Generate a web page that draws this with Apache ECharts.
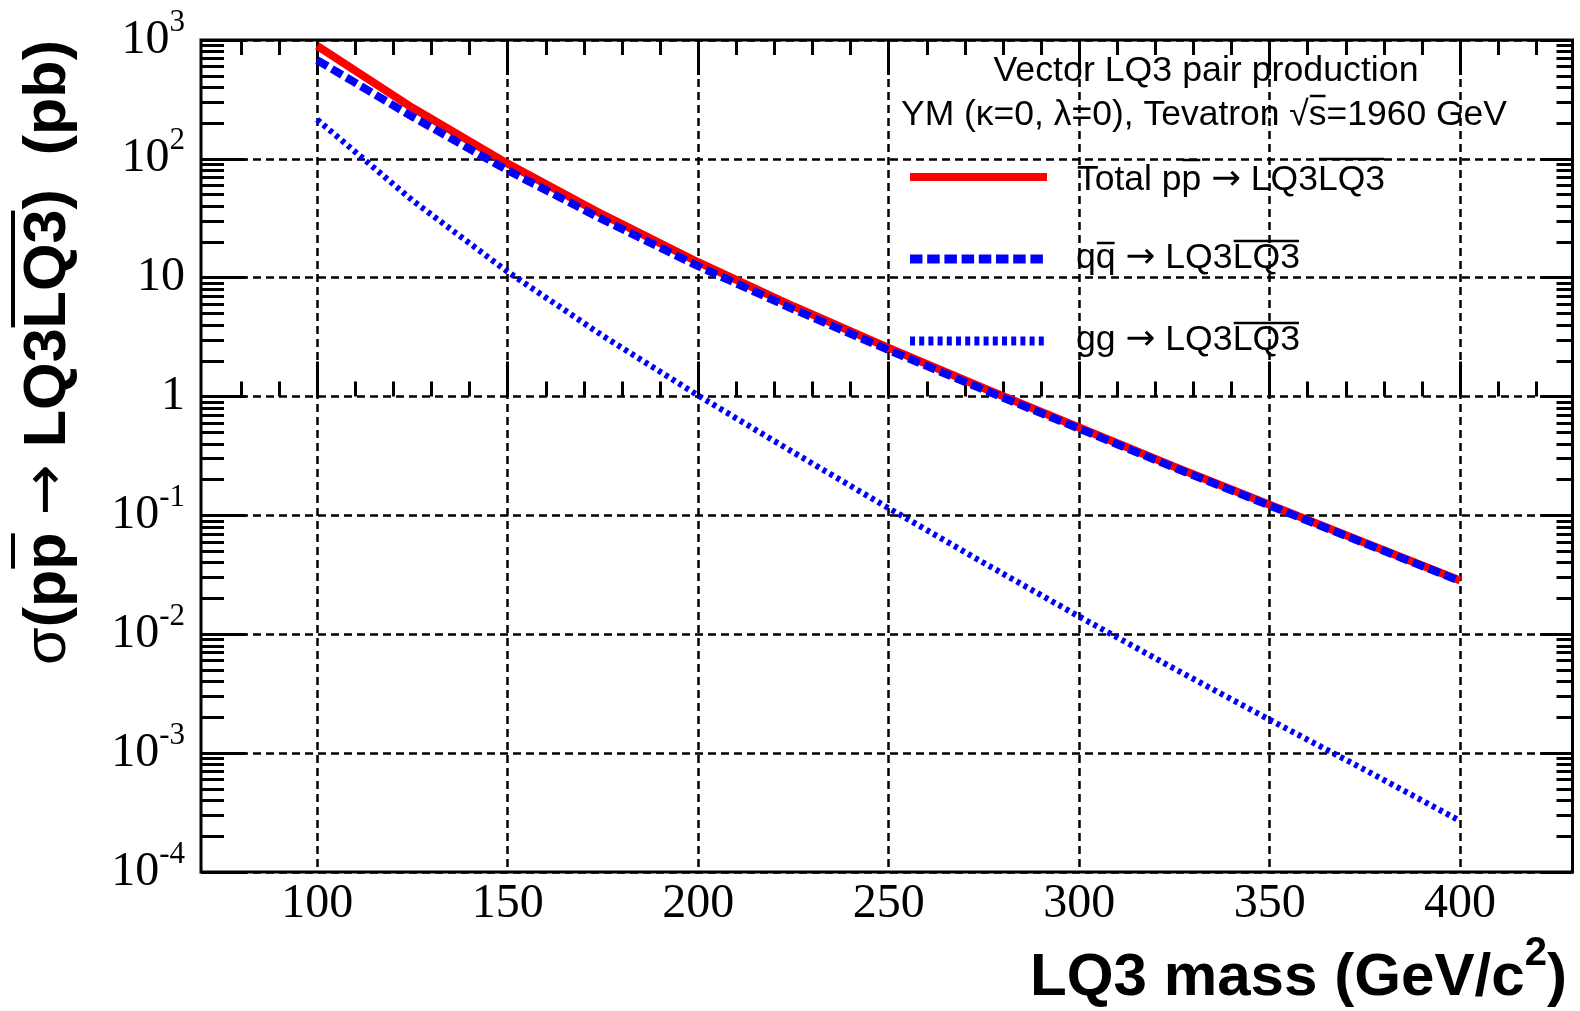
<!DOCTYPE html>
<html>
<head>
<meta charset="utf-8">
<title>Vector LQ3 pair production</title>
<script src="https://cdn.jsdelivr.net/npm/echarts@6/dist/echarts.min.js"></script>
<style>
  html, body { margin: 0; padding: 0; background: #fff; }
  #chart { width: 1580px; height: 1011px; }
</style>
</head>
<body>
<div id="chart"></div>
<script>
// LQ3 mass (GeV/c^2)
const mass = [100, 125, 150, 175, 200, 225, 250, 275, 300, 325, 350, 375, 400];
// cross sections (pb)
const sigmaTotal = [891, 269, 91.2, 33.9, 13.5, 5.75, 2.57, 1.175, 0.550, 0.257, 0.123, 0.0589, 0.0283];
const sigmaQQ = [677, 226, 80, 30.8, 12.5, 5.43, 2.46, 1.14, 0.537, 0.252, 0.121, 0.0582, 0.0280];
const sigmaGG = [214, 44.7, 11.2, 3.24, 1.02, 0.339, 0.115, 0.0398, 0.0141, 0.00513, 0.00191, 0.000724, 0.000269];

// x ticks
const xMajor = [100, 150, 200, 250, 300, 350, 400];
const xMinor = [80, 90, 110, 120, 130, 140, 160, 170, 180, 190, 210, 220, 230, 240,
  260, 270, 280, 290, 310, 320, 330, 340, 360, 370, 380, 390, 410, 420];
// y decades (log10) and minor ticks 2..9 per decade, in log10 units
const yDecades = [-4, -3, -2, -1, 0, 1, 2, 3];
const yMinorLog = [];
yDecades.slice(0, -1).forEach(function (d) {
  for (let k = 2; k <= 9; k++) yMinorLog.push(d + Math.log10(k));
});

const serif = 'Liberation Serif';
const sans = 'Liberation Sans';
const arrowFont = 'DejaVu Sans';

// measuring text so pieces and overlines can be laid out by hand
const ctx = document.createElement('canvas').getContext('2d');
function textWidth(str, font) {
  ctx.font = font;
  return ctx.measureText(str).width;
}

// a line of text made of parts: {t, family, weight, size, dy, bar}
// bar = y offset of an overline above that part
function label(o) {
  const parts = o.parts.map(function (p) {
    const size = p.size || o.size;
    const font = (p.weight || o.weight || 'normal') + ' ' + size + 'px "' + (p.family || o.family || sans) + '"';
    return { t: p.t, font: font, dy: p.dy || 0, bar: p.bar, w: textWidth(p.t, font) };
  });
  const W = parts.reduce(function (s, p) { return s + p.w; }, 0);
  const sx = o.width ? o.width / W : 1;
  const align = o.align || 'left';
  let x = align === 'right' ? -W : align === 'center' ? -W / 2 : 0;
  const kids = [];
  parts.forEach(function (p) {
    kids.push({
      type: 'text', x: x, y: p.dy,
      style: {
        text: p.t, font: p.font, fill: '#000', textFill: '#000',
        align: 'left', textAlign: 'left', verticalAlign: 'middle', textVerticalAlign: 'middle'
      }
    });
    if (p.bar != null) {
      kids.push({
        type: 'line',
        shape: { x1: x + 1, y1: p.bar, x2: x + p.w - 1, y2: p.bar },
        style: { stroke: '#000', lineWidth: o.barWidth || 2.5 }
      });
    }
    x += p.w;
  });
  return { type: 'group', x: o.x, y: o.y, rotation: o.rotation || 0, scaleX: sx, children: kids };
}

function decadeLabel(v) {
  const e = Math.round(Math.log10(v));
  if (e === 0) return '{b|1}';
  if (e === 1) return '{b|10}';
  return '{b|10}{s|' + e + '}';
}

const tickLine = { color: '#000', width: 3 };
const dashed = { color: '#000', width: 2.5, type: [8, 5] };
const xRange = { min: 69.5, max: 429.5 };

function tickAxis(pos, values, len) {
  return {
    type: 'value', position: pos, min: xRange.min, max: xRange.max,
    axisLine: { show: false },
    axisTick: { show: true, inside: true, length: len, lineStyle: tickLine, customValues: values },
    axisLabel: { show: false },
    splitLine: { show: false }
  };
}

function pairs(ys) {
  return mass.map(function (m, i) { return [m, ys[i]]; });
}

const chart = echarts.init(document.getElementById('chart'), null, { renderer: 'canvas' });

const option = {
  animation: false,
  backgroundColor: '#fff',
  grid: {
    left: 201, right: 7.5, top: 40, bottom: 139,
    show: true, borderColor: '#000', borderWidth: 3, backgroundColor: 'transparent',
    containLabel: false, outerBoundsMode: 'none'
  },
  xAxis: [
    {
      type: 'value', position: 'bottom', min: xRange.min, max: xRange.max, splitNumber: 7,
      axisLine: { show: false },
      axisTick: { show: true, inside: true, length: 35, lineStyle: tickLine, customValues: xMajor },
      axisLabel: { customValues: xMajor, margin: 8, color: '#000', fontFamily: serif, fontSize: 48 },
      splitLine: { show: true, lineStyle: dashed }
    },
    tickAxis('bottom', xMinor, 15),
    tickAxis('top', xMajor, 35),
    tickAxis('top', xMinor, 15)
  ],
  yAxis: [
    {
      type: 'log', logBase: 10, min: 1e-4, max: 1e3, splitNumber: 7, position: 'left',
      axisLine: { show: false },
      axisTick: { show: true, inside: true, length: 45, lineStyle: tickLine },
      axisLabel: {
        margin: 16, formatter: decadeLabel,
        rich: {
          b: { fontFamily: serif, fontSize: 48, lineHeight: 66, color: '#000', verticalAlign: 'middle' },
          s: { fontFamily: serif, fontSize: 31, lineHeight: 31, color: '#000', verticalAlign: 'top' }
        }
      },
      splitLine: { show: true, lineStyle: dashed }
    },
    {
      type: 'log', logBase: 10, min: 1e-4, max: 1e3, splitNumber: 7, position: 'right',
      axisLine: { show: false },
      axisTick: { show: true, inside: true, length: 32, lineStyle: tickLine },
      axisLabel: { show: false },
      splitLine: { show: false }
    },
    {
      type: 'value', min: -4, max: 3, position: 'left',
      axisLine: { show: false },
      axisTick: { show: true, inside: true, length: 23, lineStyle: tickLine, customValues: yMinorLog },
      axisLabel: { show: false },
      splitLine: { show: false }
    },
    {
      type: 'value', min: -4, max: 3, position: 'right',
      axisLine: { show: false },
      axisTick: { show: true, inside: true, length: 16, lineStyle: tickLine, customValues: yMinorLog },
      axisLabel: { show: false },
      splitLine: { show: false }
    }
  ],
  series: [
    {
      name: 'Total', type: 'line', xAxisIndex: 0, yAxisIndex: 0, data: pairs(sigmaTotal),
      showSymbol: false, symbol: 'none', smooth: false,
      lineStyle: { color: '#ff0000', width: 8 }
    },
    {
      name: 'qqbar', type: 'line', xAxisIndex: 0, yAxisIndex: 0, data: pairs(sigmaQQ),
      showSymbol: false, symbol: 'none', smooth: false,
      lineStyle: { color: '#0000ff', width: 8, type: [12, 5], cap: 'butt' }
    },
    {
      name: 'gg', type: 'line', xAxisIndex: 0, yAxisIndex: 0, data: pairs(sigmaGG),
      showSymbol: false, symbol: 'none', smooth: false,
      lineStyle: { color: '#0000ff', width: 6, type: [4, 4], cap: 'butt' }
    }
  ],
  graphic: [
    // header
    label({ x: 1206, y: 71, size: 35, align: 'center', width: 425, parts: [{ t: 'Vector LQ3 pair production' }] }),
    label({
      x: 1204, y: 115, size: 35, align: 'center', width: 606,
      parts: [{ t: 'YM (κ=0, λ=0), Tevatron √' }, { t: 's', bar: -19 }, { t: '=1960 GeV' }]
    }),
    // legend samples
    { type: 'line', shape: { x1: 910, y1: 177, x2: 1047, y2: 177 }, style: { stroke: '#ff0000', lineWidth: 8 } },
    { type: 'line', shape: { x1: 910, y1: 259, x2: 1047, y2: 259 }, style: { stroke: '#0000ff', lineWidth: 9, lineDash: [12.5, 4.7] } },
    { type: 'line', shape: { x1: 910, y1: 341, x2: 1047, y2: 341 }, style: { stroke: '#0000ff', lineWidth: 9, lineDash: [5, 4.2] } },
    // legend texts
    label({
      x: 1077, y: 180, size: 35, width: 308,
      parts: [{ t: 'Total p' }, { t: 'p', bar: -20 }, { t: ' ' }, { t: '→', family: arrowFont },
        { t: ' LQ3' }, { t: 'LQ3', bar: -21 }]
    }),
    label({
      x: 1076, y: 258, size: 35, width: 224,
      parts: [{ t: 'q' }, { t: 'q', bar: -15 }, { t: ' ' }, { t: '→', family: arrowFont },
        { t: ' LQ3' }, { t: 'LQ3', bar: -17 }]
    }),
    label({
      x: 1076, y: 340, size: 35, width: 224,
      parts: [{ t: 'gg ' }, { t: '→', family: arrowFont }, { t: ' LQ3' }, { t: 'LQ3', bar: -17 }]
    }),
    // axis titles
    label({
      x: 48, y: 40, rotation: Math.PI / 2, size: 60, weight: 'bold', align: 'right', width: 625, barWidth: 4,
      parts: [{ t: 'σ', weight: 'normal' }, { t: '(p' }, { t: 'p', bar: -35 }, { t: ' ' },
        { t: '→', family: arrowFont, weight: 'normal' }, { t: ' LQ3' }, { t: 'LQ3', bar: -35 }, { t: ')  (pb)' }]
    }),
    label({
      x: 1567, y: 978, size: 60, weight: 'bold', align: 'right', width: 537,
      parts: [{ t: 'LQ3 mass (GeV/c' }, { t: '2', size: 40, dy: -24 }, { t: ')' }]
    })
  ]
};

chart.setOption(option);
</script>
</body>
</html>
